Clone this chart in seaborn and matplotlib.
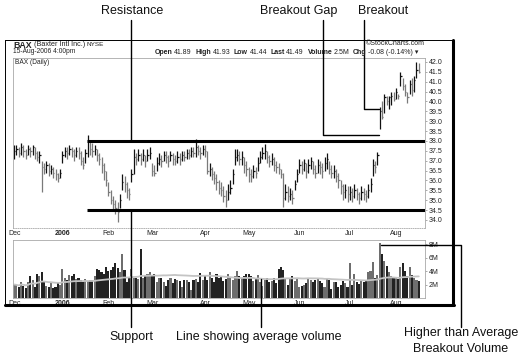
import numpy as np
import pandas as pd
import matplotlib
matplotlib.use("Agg")
import matplotlib.pyplot as plt
import seaborn as sns

# ==================================================
# Daten (aus dem Chart abgelesen), BAX täglich 01.12.2005 - 15.08.2006
# ==================================================
holidays = ["2005-12-26", "2006-01-02", "2006-01-16", "2006-02-20",
            "2006-04-14", "2006-05-29", "2006-07-04"]

highs = [
    # Dec
    37.8, 37.8, 37.7, 37.9, 37.8, 37.6, 37.8, 37.7, 37.8, 37.7, 37.5, 37.5, 37.0, 36.9, 37.0, 36.9, 36.8, 36.7, 36.6, 36.4, 36.6,
    # Jan
    37.5, 37.7, 37.7, 37.8, 37.7, 37.6, 37.7, 37.7, 37.5, 37.2, 37.6, 38.3, 38.0, 37.9, 37.8, 37.6, 37.4, 37.2, 36.9, 36.5,
    # Feb
    35.9, 35.5, 35.2, 35.0, 34.9, 35.3, 36.3, 36.2, 35.9, 35.6, 36.6, 37.6, 37.4, 37.6, 37.4, 37.6, 37.3, 37.6, 37.7,
    # Mar
    36.9, 36.8, 37.2, 37.4, 37.3, 37.5, 37.5, 37.3, 37.5, 37.4, 37.3, 37.5, 37.4, 37.5, 37.5, 37.6, 37.6, 37.7, 37.7, 38.1, 37.8, 37.7, 37.8,
    # Apr
    37.8, 37.5, 36.9, 36.7, 36.5, 36.3, 36.0, 35.9, 35.7, 35.5, 35.8, 36.0, 36.6, 37.6, 37.6, 37.5, 37.5, 37.2, 37.0,
    # May
    36.7, 36.6, 36.8, 36.7, 37.2, 37.5, 37.7, 37.85, 37.5, 37.3, 37.4, 37.2, 37.0, 36.9, 36.6, 36.4, 35.8, 35.7, 35.6, 35.5, 36.0, 36.6,
    # Jun
    37.1, 37.0, 37.1, 36.9, 37.1, 37.2, 37.0, 36.8, 37.1, 37.0, 36.9, 37.2, 37.4, 37.0, 36.8, 36.8, 36.6, 36.4, 36.0, 35.8, 35.8, 35.7,
    # Jul
    35.7, 35.6, 35.8, 35.6, 35.4, 35.7, 35.6, 35.5, 35.8, 36.1, 37.1, 37.0, 37.45, 39.7, 40.0, 40.4, 40.3, 40.3, 40.5, 40.5,
    # Aug
    40.7, 40.4, 41.5, 41.2, 40.9, 40.5, 41.1, 41.2, 41.3, 42.0, 41.93,
]
lows = [
    37.1, 37.3, 37.2, 37.3, 37.2, 37.1, 37.3, 37.2, 37.3, 37.1, 37.0, 36.9, 35.4, 36.3, 36.4, 36.2, 36.3, 36.1, 36.0, 35.9, 36.1,
    36.9, 37.2, 37.1, 37.3, 37.2, 37.0, 37.2, 37.1, 36.8, 36.6, 36.9, 37.2, 37.3, 37.2, 37.3, 37.0, 36.8, 36.4, 36.0, 35.7,
    35.2, 34.8, 34.5, 34.3, 33.9, 34.6, 35.5, 35.4, 35.1, 35.0, 35.9, 36.3, 36.8, 37.0, 36.8, 37.0, 36.7, 37.0, 37.1,
    36.2, 36.2, 36.5, 36.8, 36.7, 37.0, 36.9, 36.7, 37.0, 36.8, 36.8, 36.9, 36.8, 37.0, 37.0, 37.1, 37.1, 37.2, 37.2, 37.2, 37.3, 37.1, 37.3,
    37.2, 36.3, 36.2, 36.0, 35.8, 35.5, 35.3, 35.2, 34.9, 34.65, 35.0, 35.3, 35.8, 36.8, 37.0, 36.8, 36.8, 36.4, 36.2,
    35.9, 35.9, 36.1, 36.1, 36.5, 36.9, 37.1, 37.1, 36.9, 36.7, 36.8, 36.5, 36.4, 36.3, 36.1, 34.65, 35.0, 34.9, 35.0, 34.8, 35.5, 35.9,
    36.4, 36.3, 36.5, 36.1, 36.4, 36.6, 36.3, 36.1, 36.4, 36.3, 36.1, 36.5, 36.6, 36.3, 36.1, 36.1, 35.9, 35.6, 35.3, 35.0, 35.1, 34.9,
    35.0, 34.9, 35.1, 35.0, 34.8, 35.0, 35.0, 34.9, 35.1, 35.4, 36.2, 36.4, 36.8, 38.6, 39.1, 39.4, 39.8, 39.6, 39.8, 40.0,
    40.1, 40.1, 40.8, 40.6, 40.3, 39.9, 40.4, 40.3, 40.5, 41.2, 41.44,
]
closes = [
    37.5, 37.6, 37.4, 37.7, 37.5, 37.3, 37.6, 37.5, 37.7, 37.4, 37.2, 37.3, 36.7, 36.6, 36.8, 36.5, 36.6, 36.4, 36.3, 36.1, 36.4,
    37.3, 37.5, 37.4, 37.6, 37.5, 37.3, 37.5, 37.4, 37.0, 36.8, 37.4, 38.0, 37.6, 37.5, 37.6, 37.3, 37.1, 36.8, 36.5, 36.0,
    35.4, 35.0, 34.8, 34.6, 34.4, 35.0, 35.9, 35.8, 35.5, 35.3, 36.3, 37.2, 37.1, 37.3, 37.1, 37.3, 37.0, 37.3, 37.4,
    36.5, 36.4, 36.9, 37.1, 37.0, 37.3, 37.2, 37.0, 37.3, 37.1, 37.0, 37.2, 37.1, 37.3, 37.2, 37.4, 37.3, 37.5, 37.4, 37.7, 37.5, 37.4, 37.6,
    37.5, 36.5, 36.6, 36.3, 36.1, 35.9, 35.6, 35.5, 35.2, 35.0, 35.4, 35.6, 36.3, 37.2, 37.3, 37.1, 37.2, 36.8, 36.6,
    36.3, 36.2, 36.5, 36.4, 36.9, 37.2, 37.4, 37.5, 37.2, 37.0, 37.1, 36.8, 36.7, 36.6, 36.3, 35.1, 35.4, 35.2, 35.3, 35.1, 35.8, 36.3,
    36.8, 36.6, 36.9, 36.5, 36.8, 37.0, 36.6, 36.4, 36.8, 36.7, 36.5, 36.9, 37.1, 36.6, 36.4, 36.5, 36.2, 36.0, 35.7, 35.4, 35.5, 35.3,
    35.4, 35.2, 35.5, 35.3, 35.1, 35.4, 35.3, 35.2, 35.5, 35.8, 36.8, 36.7, 37.3, 39.5, 39.2, 40.2, 40.0, 40.2, 40.3, 40.1,
    40.5, 40.3, 41.3, 40.8, 40.5, 40.2, 40.9, 40.6, 41.1, 41.57, 41.49,
]
# Volumen in Mio.
volumes = [
    2.0, 1.9, 1.7, 2.4, 1.8, 1.5, 2.3, 3.3, 2.6, 1.7, 3.5, 3.3, 3.8, 2.4, 1.8, 1.6, 2.2, 1.5, 1.6, 2.2, 2.0,
    4.3, 3.0, 2.6, 3.4, 3.3, 3.5, 2.8, 2.9, 2.6, 2.4, 2.8, 2.5, 2.6, 2.6, 3.3, 4.3, 4.1, 3.9, 3.5, 4.6,
    4.0, 4.2, 4.6, 5.2, 4.4, 3.8, 6.5, 4.2, 2.3, 3.0, 4.3, 2.9, 3.0, 2.8, 7.3, 3.0, 3.2, 3.5, 3.8,
    3.2, 3.6, 2.3, 2.9, 3.0, 2.4, 1.8, 2.6, 3.0, 2.2, 2.8, 2.6, 2.5, 1.7, 2.7, 2.7, 2.3, 1.2, 2.6, 2.8, 2.3, 3.7, 2.7,
    3.2, 2.6, 3.8, 2.9, 2.4, 3.5, 2.9, 3.3, 2.5, 2.8, 3.6, 3.0, 2.6, 3.2, 4.0, 3.2, 2.9, 3.3, 3.5,
    3.5, 3.2, 2.5, 2.8, 3.4, 2.3, 1.8, 2.6, 3.0, 2.4, 2.5, 2.9, 2.2, 4.3, 4.6, 4.2, 3.0, 2.0, 2.9, 3.3, 2.5, 2.8,
    1.6, 1.8, 2.0, 2.2, 3.0, 2.7, 2.4, 2.6, 3.0, 2.5, 2.2, 1.7, 2.8, 2.6, 1.4, 2.4, 2.3, 1.6, 2.0, 2.5, 2.2, 1.6,
    5.2, 2.0, 3.6, 2.4, 2.1, 2.6, 2.3, 2.7, 3.9, 4.0, 5.4, 3.0, 3.4, 8.2, 6.5, 5.5, 4.8, 3.8, 3.2, 3.0,
    3.1, 2.8, 4.6, 5.2, 4.0, 3.3, 4.6, 3.4, 2.9, 2.6, 2.5,
]

month_labels = ["Dec", "2006", "Feb", "Mar", "Apr", "May", "Jun", "Jul", "Aug"]
price_ticks = [34.0, 34.5, 35.0, 35.5, 36.0, 36.5, 37.0, 37.5, 38.0, 38.5,
               39.0, 39.5, 40.0, 40.5, 41.0, 41.5, 42.0]
volume_ticks = [2, 4, 6, 8]
volume_labels = ["2M", "4M", "6M", "8M"]
resistance = 38.0
support = 34.5
gap_level = 38.3
breakout_level = 39.6

# ==================================================
# Aufbereitung
# ==================================================
dates = pd.bdate_range("2005-12-01", "2006-08-15", freq="C", holidays=holidays)
df = pd.DataFrame({"date": dates, "high": highs, "low": lows,
                   "close": closes, "volume": volumes})
df["idx"] = np.arange(len(df))
df["up"] = df["close"].diff().fillna(0) >= 0
df["avg_vol"] = df["volume"].rolling(50, min_periods=1).mean()
month_pos = df.groupby(df["date"].dt.to_period("M"))["idx"].min().tolist()

sns.set_theme(style="white")
plt.rcParams["font.family"] = ["Liberation Sans", "DejaVu Sans"]

W, H = 519, 360
fig = plt.figure(figsize=(W / 100, H / 100), dpi=100, facecolor="white")


def frac(x0, y0, x1, y1):
    return [x0 / W, 1 - y1 / H, (x1 - x0) / W, (y1 - y0) / H]


ax_p = fig.add_axes(frac(13, 58, 425, 228))
ax_v = fig.add_axes(frac(13, 240, 425, 298))
XLIM = (-0.5, 178.7)

# --- Kurs-Panel ---
price_col = np.where(df["up"], "#111111", "#7a7a7a")
ax_p.vlines(df["idx"], df["low"], df["high"], colors=price_col, lw=0.9)
ax_p.hlines(df["close"], df["idx"], df["idx"] + 0.55, colors=price_col, lw=0.9)
ax_p.hlines([resistance, support], 31.5, XLIM[1], colors="black", lw=2.2, zorder=5)
ax_p.set_xlim(*XLIM)
ax_p.set_ylim(33.59, 42.2)

# --- Volumen-Panel ---
vol_col = np.where(df["up"], "#6e6e6e", "#222222")
ax_v.bar(df["idx"], df["volume"], width=0.9, color=vol_col, linewidth=0)
sns.lineplot(data=df, x="idx", y="avg_vol", ax=ax_v, color="#c4c4c4", lw=1.3)
ax_v.set_xlim(*XLIM)
ax_v.set_ylim(0, 8.6)

for ax in (ax_p, ax_v):
    ax.set_xlabel("")
    ax.set_ylabel("")
    ax.yaxis.tick_right()
    ax.set_xticks(month_pos)
    ax.set_xticklabels(month_labels)
    ax.tick_params(axis="x", length=0, labelsize=5, pad=1.5, colors="#222222")
    ax.tick_params(axis="y", length=1.5, width=0.5, color="#888888",
                   labelsize=5, pad=1, labelcolor="#222222")
    for lab in ax.get_xticklabels():
        if lab.get_text() == "2006":
            lab.set_fontweight("bold")
    for sp in ax.spines.values():
        sp.set_color("#a8a8a8")
        sp.set_linewidth(0.6)
ax_p.spines["bottom"].set_linestyle(":")
ax_p.set_yticks(price_ticks)
ax_p.set_yticklabels([f"{t:.1f}" for t in price_ticks])
ax_v.set_yticks(volume_ticks)
ax_v.set_yticklabels(volume_labels)

# ==================================================
# Rahmen, Kopfzeile und Beschriftungen (Pixel-Koordinaten)
# ==================================================
ov = fig.add_axes([0, 0, 1, 1], zorder=10)
ov.set_xlim(0, W)
ov.set_ylim(H, 0)
ov.axis("off")
ov.patch.set_alpha(0)


def to_ov(ax, x, y):
    dx, dy = ax.transData.transform((x, y))
    return dx, H - dy


# Rahmen
ov.plot([5, 453], [40, 40], color="black", lw=0.7)
ov.plot([5, 5], [40, 305], color="black", lw=0.7)
ov.plot([453, 453], [40, 305], color="black", lw=2.2)
ov.plot([5, 454], [305, 305], color="black", lw=2.2)

# Kopfzeile
renderer = fig.canvas.get_renderer()


def write_row(x, y, pieces, size=5.0):
    for txt, weight, gap, fsize in pieces:
        t = ov.text(x, y, txt, fontsize=fsize or size, fontweight=weight,
                    va="center", ha="left", color="#222222")
        x += t.get_window_extent(renderer).width + gap


write_row(13, 45, [("BAX", "bold", 2, 6.3), ("(Baxter Intl Inc.)", "normal", 2, None),
                   ("NYSE", "normal", 0, 4.6)], size=5.2)
ov.text(13, 51.8, "15-Aug-2006 4:00pm", fontsize=4.8, va="center", color="#222222")
ov.text(15, 63, "BAX (Daily)", fontsize=4.8, va="center", color="#222222")
ov.text(425, 43.5, "\u00a9StockCharts.com", fontsize=5, va="center", ha="right", color="#222222")
write_row(155, 52, [("Open", "bold", 1.5, None), ("41.89", "normal", 3.5, None),
                    ("High", "bold", 1.5, None), ("41.93", "normal", 3.5, None),
                    ("Low", "bold", 1.5, None), ("41.44", "normal", 3.5, None),
                    ("Last", "bold", 1.5, None), ("41.49", "normal", 3.5, None),
                    ("Volume", "bold", 1.5, None), ("2.5M", "normal", 3.5, None),
                    ("Chg", "bold", 1.5, None), ("-0.08 (-0.14%) \u25be", "normal", 0, None)])

# Hinweislinien
LW = 1.0
_, y_res = to_ov(ax_p, 0, resistance)
_, y_sup = to_ov(ax_p, 0, support)
ov.plot([131, 131], [20, y_res], color="black", lw=LW)
ov.plot([131, 131], [y_sup, 327], color="black", lw=LW)

gx, gy = to_ov(ax_p, 159 - 0.4, gap_level)
ov.plot([323, 323, gx], [20, gy, gy], color="black", lw=LW)
bx, by = to_ov(ax_p, 159 - 0.4, breakout_level)
ov.plot([364, 364, bx], [20, by, by], color="black", lw=LW)

_, ay = to_ov(ax_v, 107, df["avg_vol"].iloc[107])
ov.plot([261, 261], [ay, 327], color="black", lw=LW)

peak = df["volume"].idxmax()
vx, vy = to_ov(ax_v, peak + 0.45, df["volume"].iloc[peak])
ov.plot([vx, 461, 461], [vy + 2, vy + 2, 327], color="black", lw=LW)

note = dict(fontsize=9, color="#111111", ha="center", va="center")
ov.text(132, 11, "Resistance", **note)
ov.text(299, 11, "Breakout Gap", **note)
ov.text(383, 11, "Breakout", **note)
ov.text(131, 337, "Support", **note)
ov.text(259, 337, "Line showing average volume", **note)
ov.text(461, 333, "Higher than Average", **note)
ov.text(461, 349, "Breakout Volume", **note)

fig.savefig("out.png", dpi=100, facecolor="white")
